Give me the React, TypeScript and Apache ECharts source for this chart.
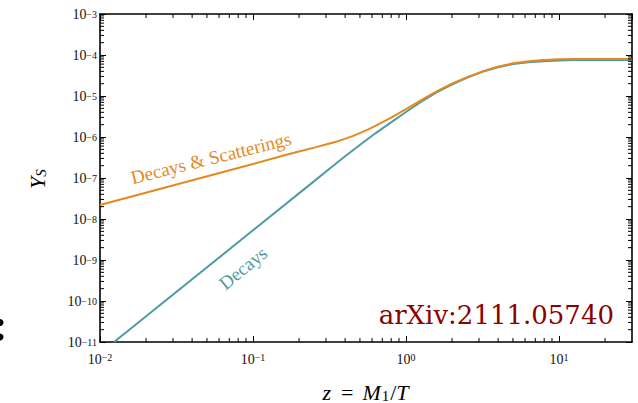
import React, { useEffect, useRef } from 'react';
import * as echarts from 'echarts';

// Decays only (teal)
const decaysZ = [0.01236, 0.1, 0.2512, 0.3162, 0.3981, 0.5012, 0.631, 0.7943, 1.0, 1.259, 1.585, 1.995, 2.512, 3.162, 3.981, 5.012, 6.31, 7.943, 10, 12.59, 15.85, 30];
const decaysY = [1.0e-11, 5.3e-9, 8.39e-8, 1.675e-7, 3.34e-7, 6.46e-7, 1.23e-6, 2.24e-6, 4.07e-6, 7.24e-6, 1.23e-5, 1.905e-5, 2.82e-5, 3.89e-5, 5.01e-5, 6.03e-5, 6.68e-5, 7.08e-5, 7.36e-5, 7.53e-5, 7.59e-5, 7.59e-5];

// Decays & Scatterings (orange)
const scatZ = [0.01, 0.03162, 0.1, 0.1585, 0.1995, 0.2512, 0.3162, 0.3548, 0.3981, 0.4467, 0.5012, 0.5623, 0.631, 0.7943, 1.0, 1.259, 1.585, 1.995, 2.512, 3.162, 3.981, 5.012, 6.31, 7.943, 10, 12.59, 15.85, 30];
const scatY = [2.19e-8, 6.92e-8, 2.19e-7, 3.55e-7, 4.44e-7, 5.5e-7, 6.92e-7, 7.8e-7, 9.0e-7, 1.05e-6, 1.26e-6, 1.52e-6, 1.86e-6, 2.92e-6, 4.79e-6, 7.94e-6, 1.29e-5, 2.0e-5, 2.88e-5, 3.98e-5, 5.19e-5, 6.31e-5, 7.08e-5, 7.59e-5, 7.89e-5, 7.98e-5, 8.04e-5, 7.98e-5];

const xMin = 0.01;
const xMax = 30;
const yMin = 1e-11;
const yMax = 1e-3;
const xDecades = [-2, -1, 0, 1];
const yDecades = [-11, -10, -9, -8, -7, -6, -5, -4];
const minorMultipliers = [2, 3, 4, 5, 6, 7, 8, 9];

const ORANGE = '#E5891F';
const TEAL = '#4F9BA0';
const SERIF = 'Liberation Serif';

function powLabel(v: number): string {
  const l = Math.log10(v);
  const e = Math.round(l);
  if (Math.abs(l - e) > 1e-6) return '';
  return `{b|10}{e|${e < 0 ? '\u2212' : ''}${Math.abs(e)}}`;
}

export default function App() {
  const ref = useRef<HTMLDivElement>(null);
  useEffect(() => {
    const chart = echarts.init(ref.current!, undefined, { renderer: 'svg' });

    const minorData: number[][] = [];
    xDecades.forEach((e) =>
      minorMultipliers.forEach((m) => {
        const v = m * Math.pow(10, e);
        if (v < xMax) minorData.push([v, 1e-7, 0]);
      })
    );
    yDecades.forEach((e) =>
      minorMultipliers.forEach((m) => {
        const v = m * Math.pow(10, e);
        if (v < yMax) minorData.push([1, v, 1]);
      })
    );

    const axisLine = { show: true, lineStyle: { color: '#000', width: 1.6 } };
    const axisTick = { show: true, inside: true, length: 6, lineStyle: { color: '#000', width: 1 } };

    const richX = {
      b: { fontFamily: SERIF, fontSize: 14, lineHeight: 14, padding: [4, 0, 0, 0], verticalAlign: 'bottom', color: '#111' },
      e: { fontFamily: SERIF, fontSize: 10, lineHeight: 10, verticalAlign: 'top', color: '#111' },
    };
    const richY = {
      b: { fontFamily: SERIF, fontSize: 14, lineHeight: 14, padding: [4, 0, 0, 0], verticalAlign: 'bottom', color: '#111' },
      e: { fontFamily: SERIF, fontSize: 10, lineHeight: 10, padding: [2, 0, 0, 0], verticalAlign: 'top', color: '#111' },
    };

    const option: any = {
      animation: false,
      backgroundColor: '#fff',
      grid: { left: 100, right: 6, top: 14, bottom: 61, containLabel: false },
      xAxis: [
        {
          type: 'log', logBase: 10, min: xMin, max: xMax, position: 'bottom',
          axisLine, axisTick, splitLine: { show: false },
          axisLabel: { margin: 10, formatter: powLabel, rich: richX, showMaxLabel: false },
        },
        {
          type: 'log', logBase: 10, min: xMin, max: xMax, position: 'top',
          axisLine, axisTick, splitLine: { show: false }, axisLabel: { show: false },
        },
      ],
      yAxis: [
        {
          type: 'log', logBase: 10, min: yMin, max: yMax, position: 'left',
          axisLine, axisTick, splitLine: { show: false },
          axisLabel: { margin: 3, formatter: powLabel, rich: richY },
        },
        {
          type: 'log', logBase: 10, min: yMin, max: yMax, position: 'right',
          axisLine, axisTick, splitLine: { show: false }, axisLabel: { show: false },
        },
      ],
      series: [
        {
          type: 'custom',
          xAxisIndex: 0, yAxisIndex: 0,
          silent: true, clip: false, z: 5,
          dimensions: ['x', 'y', 'k'],
          encode: { x: 0, y: 1 },
          data: minorData,
          renderItem: (params: any, api: any) => {
            const cs = params.coordSys;
            const p = api.coord([api.value(0), api.value(1)]);
            const kind = api.value(2);
            const L = 4;
            const st = { stroke: '#000', lineWidth: 1 };
            if (kind === 0) {
              const x = p[0];
              const b = cs.y + cs.height;
              return {
                type: 'group',
                children: [
                  { type: 'line', shape: { x1: x, y1: b, x2: x, y2: b - L }, style: st },
                  { type: 'line', shape: { x1: x, y1: cs.y, x2: x, y2: cs.y + L }, style: st },
                ],
              };
            }
            const y = p[1];
            const r = cs.x + cs.width;
            return {
              type: 'group',
              children: [
                { type: 'line', shape: { x1: cs.x, y1: y, x2: cs.x + L, y2: y }, style: st },
                { type: 'line', shape: { x1: r, y1: y, x2: r - L, y2: y }, style: st },
              ],
            };
          },
        },
        {
          name: 'Decays',
          type: 'line',
          xAxisIndex: 0, yAxisIndex: 0,
          data: decaysZ.map((z, i) => [z, decaysY[i]]),
          symbol: 'none', showSymbol: false, smooth: false,
          lineStyle: { color: TEAL, width: 2 },
          z: 2,
        },
        {
          name: 'Decays & Scatterings',
          type: 'line',
          xAxisIndex: 0, yAxisIndex: 0,
          data: scatZ.map((z, i) => [z, scatY[i]]),
          symbol: 'none', showSymbol: false, smooth: false,
          lineStyle: { color: ORANGE, width: 2 },
          z: 3,
        },
      ],
      graphic: [
        {
          type: 'text', x: 211, y: 158, rotation: (14 * Math.PI) / 180, z: 10,
          style: { text: 'Decays & Scatterings', fill: ORANGE, fontFamily: SERIF, fontSize: 19, align: 'center', verticalAlign: 'middle' },
        },
        {
          type: 'text', x: 243, y: 268, rotation: (39 * Math.PI) / 180, z: 10,
          style: { text: 'Decays', fill: TEAL, fontFamily: SERIF, fontSize: 19, align: 'center', verticalAlign: 'middle' },
        },
        {
          type: 'text', x: 614, y: 315, z: 10,
          style: { text: 'arXiv:2111.05740', fill: '#8B0000', fontFamily: 'DejaVu Serif', fontSize: 26, align: 'right', verticalAlign: 'middle' },
        },
        {
          type: 'text', x: 37, y: 179, rotation: Math.PI / 2, z: 10,
          style: {
            text: '{y|Y}{s|S}', align: 'center', verticalAlign: 'middle',
            rich: {
              y: { fontFamily: SERIF, fontStyle: 'italic', fontSize: 22, lineHeight: 22, padding: [0, 0, 4, 0], verticalAlign: 'top', color: '#111' },
              s: { fontFamily: SERIF, fontStyle: 'italic', fontSize: 15, lineHeight: 15, verticalAlign: 'bottom', color: '#111' },
            },
          },
        },
        {
          type: 'text', x: 366, y: 392, z: 10,
          style: {
            text: '{i|z}{u|=}{i|M}{s|1}{v|/}{i|T}', align: 'center', verticalAlign: 'middle',
            rich: {
              i: { fontFamily: SERIF, fontStyle: 'italic', fontSize: 22, lineHeight: 22, padding: [0, 1, 5, 0], verticalAlign: 'top', color: '#111' },
              u: { fontFamily: SERIF, fontSize: 22, lineHeight: 22, padding: [0, 9, 5, 9], verticalAlign: 'top', color: '#111' },
              v: { fontFamily: SERIF, fontSize: 22, lineHeight: 22, padding: [0, 0, 5, 0], verticalAlign: 'top', color: '#111' },
              s: { fontFamily: SERIF, fontSize: 15, lineHeight: 15, padding: [0, 1, 0, 0], verticalAlign: 'bottom', color: '#111' },
            },
          },
        },
        { type: 'circle', shape: { cx: 0, cy: 322.5, r: 3.5 }, style: { fill: '#000' } },
        { type: 'circle', shape: { cx: 0, cy: 337, r: 3.5 }, style: { fill: '#000' } },
      ],
    };

    chart.setOption(option);
    return () => chart.dispose();
  }, []);
  return (
    <div
      ref={ref}
      style={{ position: 'fixed', left: 0, top: 0, width: 638, height: 403, background: '#fff' }}
    />
  );
}
